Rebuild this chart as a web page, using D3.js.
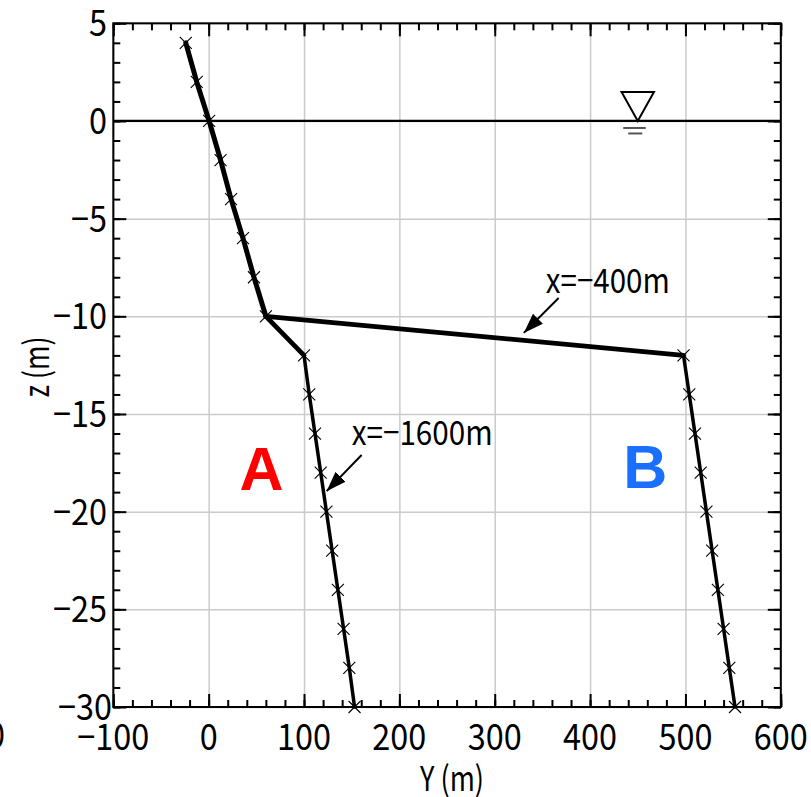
<!DOCTYPE html>
<html><head><meta charset="utf-8">
<script src="https://cdn.jsdelivr.net/npm/d3@7"></script>
<style>body{margin:0;background:#fff} svg{display:block}</style>
</head><body><script>
// ---- data (Y in m, z in m) ----
const upperZ = [4, 2, 0, -2, -4, -6, -8, -10];
const upperY = [-24, -12.5, 0.5, 12.5, 23.5, 36, 47.5, 60];
const lowerZ = [-12, -14, -16, -18, -20, -22, -24, -26, -28, -30];
const lineAY = [100, 105.5, 111.5, 117.5, 123.5, 129.5, 135.5, 141.5, 147.5, 153];
const lineBY = [498, 504, 510, 516, 522, 528, 534, 540, 546, 552];
const xTicks = [-100, 0, 100, 200, 300, 400, 500, 600];
const yTicks = [5, 0, -5, -10, -15, -20, -25, -30];
const xLabel = "Y (m)";
const yLabel = "z (m)";
const annoLabels = ["x=−400m", "x=−1600m"];
const regionLabels = ["A", "B"];
const waterY = 450, waterZ = 0;

const W = 811, H = 797;
const FONT = "'Noto Sans CJK JP','Noto Sans',sans-serif";
const svg = d3.select("body").append("svg").attr("width", W).attr("height", H);
svg.append("rect").attr("width", W).attr("height", H).attr("fill", "#fff");

const x = d3.scaleLinear().domain([-100, 600]).range([113.3, 780.8]);
const y = d3.scaleLinear().domain([5, -30]).range([23.3, 707]);
const [x0, x1] = x.range(), [y0, y1] = y.range();
const pw = x1 - x0, ph = y1 - y0;

const fmt = v => (v < 0 ? "−" + Math.abs(v) : String(v));

// grid
const grid = svg.append("g");
grid.append("g").attr("transform", `translate(0,${y1})`)
  .call(d3.axisBottom(x).tickValues(xTicks).tickSize(-ph).tickFormat(""))
  .call(g => g.select(".domain").remove())
  .call(g => g.selectAll("line").attr("stroke", "#cbcbcb").attr("stroke-width", 1.5));
grid.append("g").attr("transform", `translate(${x0},0)`)
  .call(d3.axisLeft(y).tickValues(yTicks).tickSize(-pw).tickFormat(""))
  .call(g => g.select(".domain").remove())
  .call(g => g.selectAll("line").attr("stroke", "#cbcbcb").attr("stroke-width", 1.5));

// water level line
svg.append("line").attr("x1", x0).attr("x2", x1).attr("y1", y(waterZ)).attr("y2", y(waterZ))
  .attr("stroke", "#000").attr("stroke-width", 2.2);

// water symbol
const wx = x(waterY), wy = y(waterZ);
svg.append("path").attr("d", `M${wx-16.2},${wy-29} L${wx+16.2},${wy-29} L${wx},${wy} Z`)
  .attr("fill", "#fff").attr("stroke", "#000").attr("stroke-width", 2);
svg.append("line").attr("x1", wx-14.5).attr("x2", wx+8).attr("y1", wy+7).attr("y2", wy+7)
  .attr("stroke", "#555").attr("stroke-width", 2);
svg.append("line").attr("x1", wx-9.5).attr("x2", wx+4.5).attr("y1", wy+12.5).attr("y2", wy+12.5)
  .attr("stroke", "#555").attr("stroke-width", 2);

// data lines
const line = d3.line().x(d => x(d[0])).y(d => y(d[1]));
const upper = upperY.map((v, i) => [v, upperZ[i]]);
const lowA = lineAY.map((v, i) => [v, lowerZ[i]]);
const lowB = lineBY.map((v, i) => [v, lowerZ[i]]);
const last = upper[upper.length - 1];
const lines = svg.append("g").attr("fill", "none").attr("stroke", "#000")
  .attr("stroke-linejoin", "round").attr("stroke-linecap", "round");
lines.append("path").attr("d", line(lowA)).attr("stroke-width", 3.5);
lines.append("path").attr("d", line(lowB)).attr("stroke-width", 3.5);
lines.append("path").attr("d", line([last, lowA[0]])).attr("stroke-width", 4.8);
lines.append("path").attr("d", line([last, lowB[0]])).attr("stroke-width", 4.8);
lines.append("path").attr("d", line(upper)).attr("stroke-width", 5);

// markers (x crosses)
const pts = upper.concat(lowA, lowB);
const mk = svg.append("g").attr("stroke", "#000").attr("stroke-width", 1.1);
const s = 6;
pts.forEach(p => {
  const px = x(p[0]), py = y(p[1]);
  mk.append("path").attr("d", `M${px-s},${py-s}L${px+s},${py+s}M${px-s},${py+s}L${px+s},${py-s}`);
});

// frame
svg.append("rect").attr("x", x0).attr("y", y0).attr("width", pw).attr("height", ph)
  .attr("fill", "none").attr("stroke", "#000").attr("stroke-width", 2);

// ticks (inward on all sides)
const xMinor = d3.range(-100, 601, 20);
const yMinor = d3.range(5, -31, -1);
function ticks(axis, pos, vals, len) {
  svg.append("g").attr("transform", pos)
    .call(axis.tickValues(vals).tickSize(len).tickFormat(""))
    .call(g => g.select(".domain").remove())
    .call(g => g.selectAll("line").attr("stroke", "#000").attr("stroke-width", 2));
}
ticks(d3.axisBottom(x), `translate(0,${y1})`, xMinor, -7);
ticks(d3.axisBottom(x), `translate(0,${y1})`, xTicks, -13);
ticks(d3.axisTop(x), `translate(0,${y0})`, xMinor, -7);
ticks(d3.axisTop(x), `translate(0,${y0})`, xTicks, -13);
ticks(d3.axisLeft(y), `translate(${x0},0)`, yMinor, -7);
ticks(d3.axisLeft(y), `translate(${x0},0)`, yTicks, -13);
ticks(d3.axisRight(y), `translate(${x1},0)`, yMinor, -7);
ticks(d3.axisRight(y), `translate(${x1},0)`, yTicks, -13);

// tick labels
const FS = 36;
function txt(g, str, opts) {
  const t = g.append("text").text(str).attr("font-family", FONT).attr("font-size", opts.fs || FS)
    .attr("fill", opts.fill || "#000");
  if (opts.len) t.attr("textLength", opts.len).attr("lengthAdjust", "spacingAndGlyphs");
  if (opts.anchor) t.attr("text-anchor", opts.anchor);
  if (opts.weight) t.attr("font-weight", opts.weight);
  t.attr("transform", opts.tr);
  return t;
}
const lab = svg.append("g");
xTicks.forEach(v => {
  const s = fmt(v);
  txt(lab, s, {len: s.length * 18, anchor: "middle", tr: `translate(${x(v)},750)`});
});
yTicks.forEach(v => {
  const s = fmt(v);
  const right = v === -30 ? 112 : 107;
  txt(lab, s, {len: s.length * 18, anchor: "end", tr: `translate(${right},${y(v) + 13})`});
});
// clipped stray glyph at left edge
txt(lab, "0", {len: 18, anchor: "end", tr: `translate(5,748)`});

// axis titles
txt(lab, xLabel, {fs: 34, len: 64, anchor: "middle", tr: `translate(452,791)`});
txt(lab, yLabel, {fs: 34, len: 61, anchor: "middle", tr: `translate(49,367) rotate(-90)`});

// annotations with arrows
const defs = svg.append("defs");
defs.append("marker").attr("id", "ah").attr("viewBox", "0 0 20 14").attr("refX", 20).attr("refY", 7)
  .attr("markerWidth", 20).attr("markerHeight", 14).attr("markerUnits", "userSpaceOnUse")
  .attr("orient", "auto")
  .append("path").attr("d", "M0,0 L20,7 L0,14 Z").attr("fill", "#000");

const annoPos = [
  {tx: 353.6, tz: -8.8, len: 124, ax: 367, az: -9.06, bx: 330.5, bz: -10.85},
  {tx: 150, tz: -16.6, len: 141, ax: 160.4, az: -17.1, bx: 123.7, bz: -18.95}
];
annoLabels.forEach((l, i) => {
  const a = annoPos[i];
  txt(lab, l, {fs: 34, len: a.len, tr: `translate(${x(a.tx)},${y(a.tz)})`});
  svg.append("line").attr("x1", x(a.ax)).attr("y1", y(a.az)).attr("x2", x(a.bx)).attr("y2", y(a.bz))
    .attr("stroke", "#000").attr("stroke-width", 2).attr("marker-end", "url(#ah)");
});

// region labels
const regColors = ["#ff0000", "#1a6fff"];
const regPos = [[55.5, -18.89], [458, -18.79]];
regionLabels.forEach((l, i) => {
  svg.append("text").text(l).attr("x", x(regPos[i][0])).attr("y", y(regPos[i][1]))
    .attr("text-anchor", "middle").attr("font-family", "'Liberation Sans',Arial,sans-serif")
    .attr("font-weight", "bold").attr("font-size", 61).attr("fill", regColors[i]);
});
</script></body></html>
